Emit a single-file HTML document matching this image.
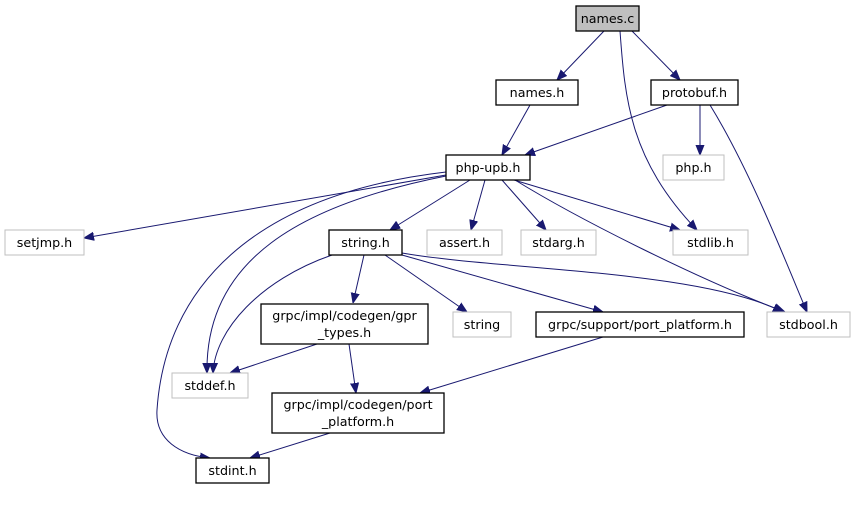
<!DOCTYPE html>
<html><head><meta charset="utf-8"><style>
html,body{margin:0;padding:0;background:#fff;}
svg{display:block;}
text{font-family:"DejaVu Sans","Liberation Sans",sans-serif;font-size:12.7px;fill:#000;text-anchor:middle;}
.n{fill:#fff;stroke:#000;stroke-width:1.3;}
.g{fill:#fff;stroke:#bfbfbf;stroke-width:1;}
.e{fill:none;stroke:#191970;stroke-width:1;}
</style></head><body>
<svg width="855" height="515" viewBox="0 0 855 515">
<defs><marker id="a" viewBox="0 0 10 10" refX="10" refY="5" markerWidth="10" markerHeight="10" markerUnits="userSpaceOnUse" orient="auto"><path d="M0,1 L10,5 L0,9 z" fill="#191970" stroke="#191970"/></marker></defs>
<g marker-end="url(#a)">
<path class="e" d="M604,31 L557,80"/>
<path class="e" d="M632,31 L680,80"/>
<path class="e" d="M620,31 C625,100 630,160 697,230"/>
<path class="e" d="M530,105 L502,155"/>
<path class="e" d="M667,105 L525,155"/>
<path class="e" d="M700,105 L700,155"/>
<path class="e" d="M710,105 C750,170 785,260 807,312"/>
<path class="e" d="M446,175 L84,238"/>
<path class="e" d="M470,180 L390,230"/>
<path class="e" d="M485,180 L471,230"/>
<path class="e" d="M502,180 L546,230"/>
<path class="e" d="M514,180 L680,230"/>
<path class="e" d="M515,180 C580,220 700,280 785,312"/>
<path class="e" d="M446,176 C300,205 205,260 207,373"/>
<path class="e" d="M446,172 C250,195 165,290 157,410 C155,440 180,455 210,458"/>
<path class="e" d="M332,255 C260,280 215,330 213,373"/>
<path class="e" d="M364,255 L353,303"/>
<path class="e" d="M385,255 L467,312"/>
<path class="e" d="M402,255 L603,312"/>
<path class="e" d="M402,253 C500,270 700,270 783,312"/>
<path class="e" d="M317,344 L230,373"/>
<path class="e" d="M349,344 L356,393"/>
<path class="e" d="M603,337 L420,393"/>
<path class="e" d="M330,433 L250,458"/>
</g>
<rect x="576" y="6" width="63" height="25" fill="#bfbfbf" stroke="#000" stroke-width="1.3"/><text x="607.5" y="23">names.c</text>
<rect class="n" x="496" y="80" width="82" height="25"/><text x="537" y="97">names.h</text>
<rect class="n" x="651" y="80" width="87" height="25"/><text x="694.5" y="97">protobuf.h</text>
<rect class="n" x="446" y="155" width="84" height="25"/><text x="488" y="172">php-upb.h</text>
<rect class="g" x="663" y="155" width="61" height="25"/><text x="693.5" y="172">php.h</text>
<rect class="g" x="5" y="230" width="79" height="25"/><text x="44.5" y="247">setjmp.h</text>
<rect class="n" x="329" y="230" width="73" height="25"/><text x="365.5" y="247">string.h</text>
<rect class="g" x="427" y="230" width="75" height="25"/><text x="464.5" y="247">assert.h</text>
<rect class="g" x="521" y="230" width="75" height="25"/><text x="558.5" y="247">stdarg.h</text>
<rect class="g" x="673" y="230" width="75" height="25"/><text x="710.5" y="247">stdlib.h</text>
<rect class="n" x="261" y="304" width="167" height="40"/><text x="344.5" y="320">grpc/impl/codegen/gpr</text><text x="344.5" y="337">_types.h</text>
<rect class="g" x="453" y="312" width="58" height="25"/><text x="482" y="329">string</text>
<rect class="n" x="536" y="312" width="208" height="25"/><text x="640" y="329">grpc/support/port_platform.h</text>
<rect class="g" x="767" y="312" width="83" height="25"/><text x="808.5" y="329">stdbool.h</text>
<rect class="g" x="172" y="373" width="76" height="25"/><text x="210" y="390">stddef.h</text>
<rect class="n" x="272" y="393" width="172" height="40"/><text x="358" y="409">grpc/impl/codegen/port</text><text x="358" y="426">_platform.h</text>
<rect class="n" x="196" y="458" width="73" height="25"/><text x="232.5" y="475">stdint.h</text>
</svg>
</body></html>
